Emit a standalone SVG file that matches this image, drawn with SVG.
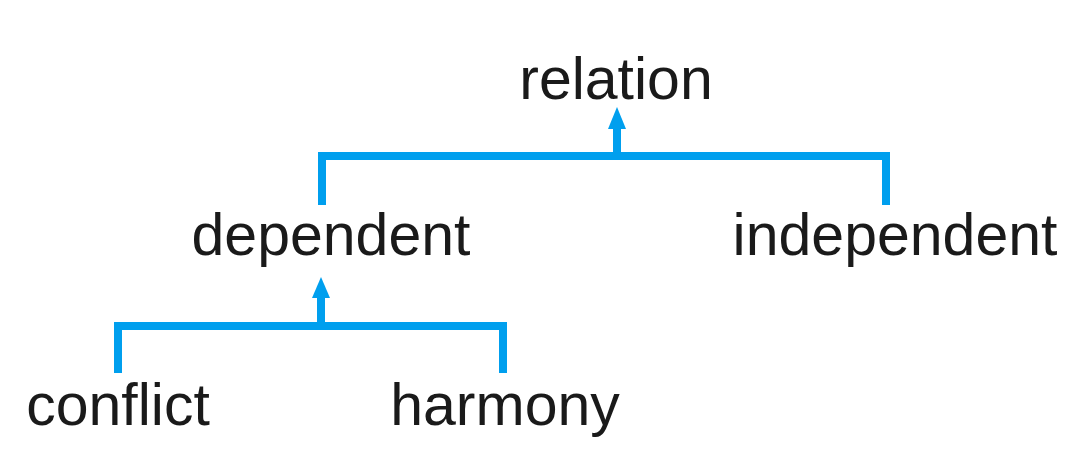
<svg xmlns="http://www.w3.org/2000/svg" width="1076" height="464" viewBox="0 0 1076 464">
<style>
.t{font-family:"Liberation Sans",Arial,sans-serif;font-size:59px;fill:#1a1a1a}
.c{fill:none;stroke:#009fee;stroke-width:8;stroke-linecap:butt;stroke-linejoin:miter}
.h{fill:#009fee}
</style>
<rect width="1076" height="464" fill="#ffffff"/>
<g id="connectors">
<path class="c" d="M322 205 V156 H886 V205"/>
<path class="c" d="M617 156 V128"/>
<path class="h" d="M608 129 L617 107 L626 129 Z"/>
<path class="c" d="M118 373 V326 H503 V373"/>
<path class="c" d="M321 326 V297"/>
<path class="h" d="M312 298 L321 277 L330 298 Z"/>
</g>
<g id="relation"><text class="t" x="616" y="99" text-anchor="middle">relation</text></g>
<g id="dependent"><text class="t" x="331" y="255" text-anchor="middle">dependent</text></g>
<g id="independent"><text class="t" x="895" y="255" text-anchor="middle">independent</text></g>
<g id="conflict"><text class="t" x="118" y="425" text-anchor="middle">conflict</text></g>
<g id="harmony"><text class="t" x="505" y="425" text-anchor="middle">harmony</text></g>
</svg>
